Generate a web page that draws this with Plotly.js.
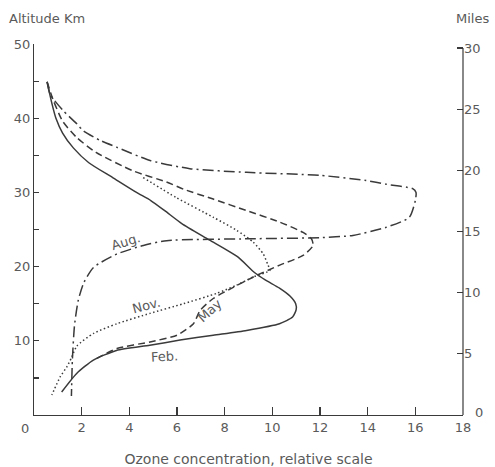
<!DOCTYPE html>
<html>
<head>
<meta charset="utf-8">
<script src="https://cdn.plot.ly/plotly-3.0.1.min.js"></script>
<style>html,body{margin:0;padding:0;background:#fff;}#chart{width:495px;height:467px;}</style>
</head>
<body>
<div id="chart"></div>
<script>
// Ozone concentration (relative) vs altitude (km)
const febAlt = [44.9, 42, 40, 38, 36, 34, 32, 30, 28.9, 27.5, 25.8, 23.6, 21.3, 19.2, 18.2, 17.1, 16.0, 15.0, 14.2, 13.2, 12.3, 11.4, 10.75, 10.1, 9.4, 8.7, 7.4, 5.6, 3.1];
const febOz  = [0.55, 0.75, 0.92, 1.2, 1.65, 2.3, 3.3, 4.3, 4.9, 5.5, 6.2, 7.35, 8.55, 9.25, 9.7, 10.3, 10.75, 10.98, 11.0, 10.85, 10.3, 8.92, 7.52, 6.13, 4.86, 3.46, 2.49, 1.79, 1.16];

const mayAlt = [44.9, 42.5, 39.6, 37.4, 35.4, 32.9, 31.4, 30.4, 29.1, 27.55, 26.0, 24.6, 23.75, 22.85, 21.5, 20.2, 18.6, 17.2, 15.7, 14.1, 12.3, 10.75, 9.85, 8.96, 7.4];
const mayOz  = [0.55, 0.8, 1.2, 1.79, 2.6, 4.16, 5.56, 6.3, 7.52, 8.92, 10.31, 11.29, 11.64, 11.71, 11.29, 10.31, 9.2, 8.36, 7.52, 6.97, 6.69, 6.0, 4.87, 3.48, 2.5];

const novAlt = [32.0, 29.3, 26.65, 24.9, 23.3, 21.7, 20.2, 19.5, 18.6, 17.5, 16.4, 15.0, 13.7, 12.3, 11.0, 9.3, 7.7, 6.5, 5.15, 2.7];
const novOz  = [4.58, 5.97, 7.52, 8.5, 9.2, 9.62, 9.82, 9.9, 9.2, 8.5, 7.67, 6.27, 4.87, 3.48, 2.5, 1.8, 1.57, 1.38, 1.1, 0.75];

const augAlt = [44.9, 43.2, 41.0, 39.2, 38.3, 37.0, 36.1, 34.3, 33.2, 32.7, 32.3, 31.6, 31.1, 30.5, 30.0, 28.9, 26.65, 25.3, 24.2, 23.9, 23.75, 23.5, 22.85, 21.7, 19.9, 17.9, 15.5, 12.1, 7.4, 2.55];
const augOz  = [0.55, 0.68, 1.23, 1.81, 2.07, 2.78, 3.46, 4.87, 6.54, 8.92, 11.99, 13.94, 14.78, 15.89, 16.03, 16.0, 15.75, 14.78, 13.38, 11.99, 9.06, 5.57, 4.59, 3.48, 2.5, 2.1, 1.86, 1.7, 1.61, 1.57];

const xTickVals = [0, 2, 4, 6, 8, 10, 12, 14, 16, 18];
const xTickText = ["", "2", "4", "6", "8", "10", "12", "14", "16", "18"];
const yTickVals = [0, 5, 10, 15, 20, 25, 30, 35, 40, 45, 50];
const yTickText = ["", "", "10", "", "20", "", "30", "", "40", "", "50"];
const y2TickVals = [0, 5, 10, 15, 20, 25, 30];
const y2TickText = ["", "5", "10", "15", "20", "25", "30"];

const seriesLabels = [
  {text: "Feb.", x: 5.46, y: 7.9, angle: -3},
  {text: "May", x: 7.38, y: 14.1, angle: -42},
  {text: "Nov.", x: 4.71, y: 14.8, angle: -15},
  {text: "Aug.", x: 3.87, y: 23.4, angle: -17}
];

const ink = "#3a3a3a";
const txt = "#5a5a5a";
const FONT = "DejaVu Sans";

const W = 495, H = 467, mL = 34, mR = 32, mT = 44, mB = 52;
const pw = W - mL - mR, ph = H - mT - mB;
const px2paperX = p => (p - mL) / pw;
const py2paperY = p => (H - mB - p) / ph;

const mk = (x, y, dash) => ({
  x: x, y: y, type: "scatter", mode: "lines",
  line: {color: ink, width: 1.5, dash: dash, shape: "spline", smoothing: 0.6},
  hoverinfo: "skip", showlegend: false
});

const traces = [
  mk(febOz, febAlt, "solid"),
  mk(mayOz, mayAlt, "7px,4px"),
  mk(novOz, novAlt, "1.5px,2.5px"),
  mk(augOz, augAlt, "11px,4px,2px,4px"),
  {x: [0], y: [0], yaxis: "y2", type: "scatter", mode: "markers", marker: {opacity: 0}, hoverinfo: "skip", showlegend: false}
];

const annotations = seriesLabels.map(l => ({
  text: l.text, x: l.x, y: l.y, xref: "x", yref: "y", showarrow: false,
  textangle: l.angle, font: {family: FONT, size: 13, color: txt}
}));
annotations.push(
  {text: "0", x: px2paperX(25), y: py2paperY(428), xref: "paper", yref: "paper", showarrow: false, xanchor: "center", yanchor: "middle", font: {family: FONT, size: 13, color: txt}},
  {text: "0", x: px2paperX(479), y: py2paperY(412), xref: "paper", yref: "paper", showarrow: false, xanchor: "center", yanchor: "middle", font: {family: FONT, size: 13, color: txt}},
  {text: "Altitude Km", x: px2paperX(7), y: py2paperY(18), xref: "paper", yref: "paper", showarrow: false, xanchor: "left", yanchor: "middle", font: {family: FONT, size: 13, color: txt}},
  {text: "Miles", x: px2paperX(472), y: py2paperY(18), xref: "paper", yref: "paper", showarrow: false, xanchor: "center", yanchor: "middle", font: {family: FONT, size: 13, color: txt}}
);

const axisCommon = {
  showgrid: false, zeroline: false, showline: true, linecolor: ink, linewidth: 1.2,
  ticks: "inside", tickcolor: ink, tickwidth: 1.2,
  tickfont: {family: FONT, size: 13, color: txt}, tickmode: "array", fixedrange: true
};

const layout = {
  width: W, height: H,
  margin: {l: mL, r: mR, t: mT, b: mB, pad: 0},
  paper_bgcolor: "#ffffff", plot_bgcolor: "#ffffff",
  xaxis: Object.assign({}, axisCommon, {
    range: [0, 18], tickvals: xTickVals, ticktext: xTickText, ticklen: 8,
    title: {text: "Ozone concentration, relative scale", font: {family: FONT, size: 14, color: txt}, standoff: 31}
  }),
  yaxis: Object.assign({}, axisCommon, {
    range: [0, 50], tickvals: yTickVals, ticktext: yTickText, ticklen: 5
  }),
  yaxis2: Object.assign({}, axisCommon, {
    overlaying: "y", side: "right", range: [0, 30.33], showline: false,
    tickvals: y2TickVals, ticktext: y2TickText, ticklen: 6
  }),
  shapes: [
    {type: "line", xref: "paper", yref: "y2", x0: 1, x1: 1, y0: 0, y1: 30, line: {color: ink, width: 1.2}}
  ],
  annotations: annotations
};

Plotly.newPlot("chart", traces, layout, {staticPlot: true, displayModeBar: false});
</script>
</body>
</html>
